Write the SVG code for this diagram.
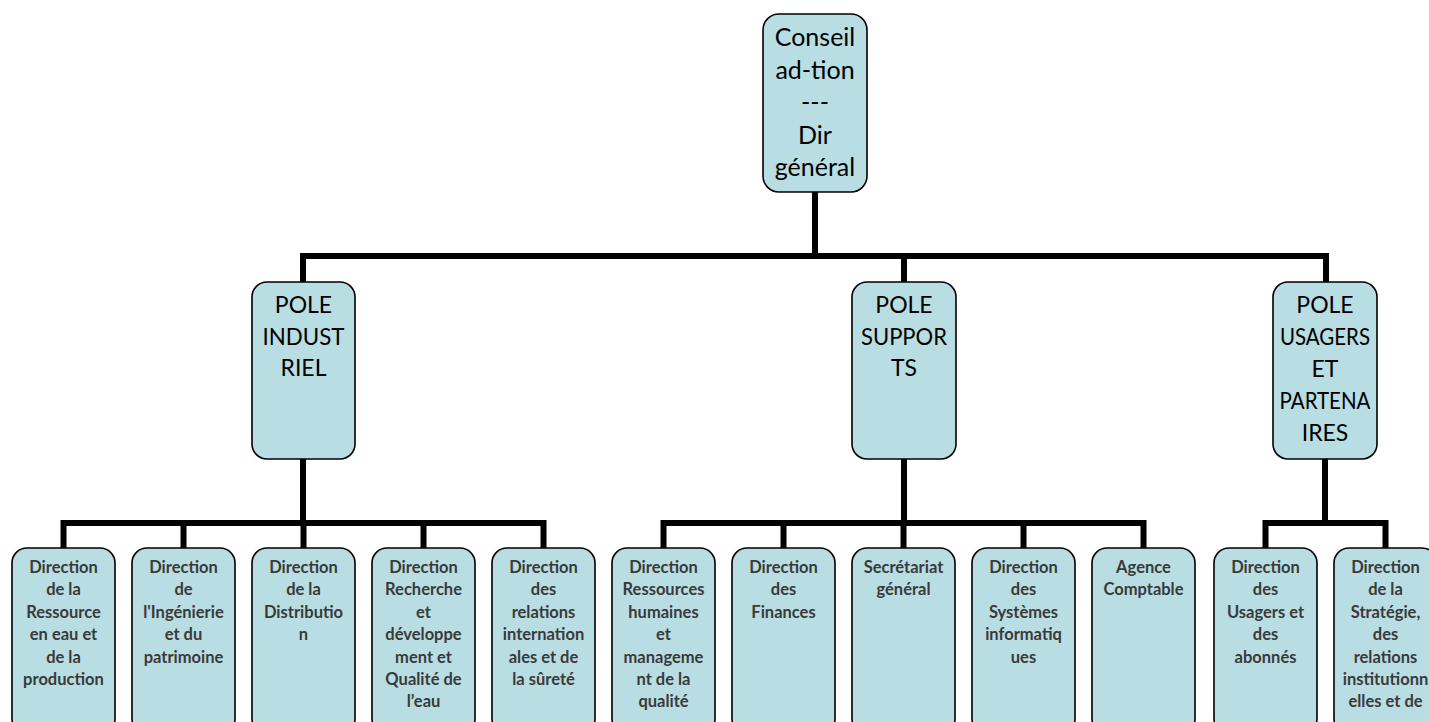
<svg xmlns="http://www.w3.org/2000/svg" width="1429" height="722" viewBox="0 0 1429 722">
<style>
.box{fill:#b8dde3;stroke:#000;stroke-width:1.6}
.big{font-family:Lato,"Open Sans",sans-serif;font-size:25px;fill:#000;text-anchor:middle}
.pole{font-family:Lato,"Open Sans",sans-serif;font-size:23px;fill:#000;text-anchor:middle}
.sm{font-family:Lato,"Open Sans",sans-serif;font-size:16.5px;font-weight:bold;fill:#3a3a3a;text-anchor:middle}
.c{fill:none;stroke:#000;stroke-width:6}
</style>
<rect width="1429" height="722" fill="#fff"/>
<g id="connectors">
<path class="c" d="M815 192V256M303 256H1326M303 253V282M904 253V282M1326 253V282"/>
<path class="c" d="M303 459V523M63.5 523H543.5M63.5 520V548M183.5 520V548M303.5 520V548M423.5 520V548M543.5 520V548"/>
<path class="c" d="M904 459V523M663.5 523H1143.5M663.5 520V548M783.5 520V548M903.5 520V548M1023.5 520V548M1143.5 520V548"/>
<path class="c" d="M1325 459V523M1265.5 523H1385.5M1265.5 520V548M1385.5 520V548"/>
</g>
<g id="n-top"><rect class="box" x="763" y="14" width="104" height="178" rx="16"/>
<text class="big"><tspan x="815" y="46">Conseil</tspan><tspan x="815" y="78.5">ad-tion</tspan><tspan x="815" y="111">---</tspan><tspan x="815" y="143.5">Dir</tspan><tspan x="815" y="176">général</tspan></text></g>
<g id="n-industriel"><rect class="box" x="252" y="282" width="103" height="177" rx="15"/>
<text class="pole"><tspan x="303.5" y="313">POLE</tspan><tspan x="303.5" y="344.5" textLength="82" lengthAdjust="spacingAndGlyphs">INDUST</tspan><tspan x="303.5" y="376">RIEL</tspan></text></g>
<g id="n-supports"><rect class="box" x="852" y="282" width="104" height="177" rx="15"/>
<text class="pole"><tspan x="904" y="313">POLE</tspan><tspan x="904" y="344.5" textLength="86" lengthAdjust="spacingAndGlyphs">SUPPOR</tspan><tspan x="904" y="376">TS</tspan></text></g>
<g id="n-usagers"><rect class="box" x="1273" y="282" width="104" height="177" rx="15"/>
<text class="pole"><tspan x="1325" y="313">POLE</tspan><tspan x="1325" y="345" textLength="90" lengthAdjust="spacingAndGlyphs">USAGERS</tspan><tspan x="1325" y="377">ET</tspan><tspan x="1325" y="409" textLength="91" lengthAdjust="spacingAndGlyphs">PARTENA</tspan><tspan x="1325" y="441">IRES</tspan></text></g>
<g id="d1"><rect class="box" x="12" y="548" width="103" height="186" rx="15"/>
<text class="sm"><tspan x="63.5" y="573">Direction</tspan><tspan x="63.5" y="595.4">de la</tspan><tspan x="63.5" y="617.8">Ressource</tspan><tspan x="63.5" y="640.2">en eau et</tspan><tspan x="63.5" y="662.6">de la</tspan><tspan x="63.5" y="685">production</tspan></text></g>
<g id="d2"><rect class="box" x="132" y="548" width="103" height="186" rx="15"/>
<text class="sm"><tspan x="183.5" y="573">Direction</tspan><tspan x="183.5" y="595.4">de</tspan><tspan x="183.5" y="617.8">l'Ingénierie</tspan><tspan x="183.5" y="640.2">et du</tspan><tspan x="183.5" y="662.6">patrimoine</tspan></text></g>
<g id="d3"><rect class="box" x="252" y="548" width="103" height="186" rx="15"/>
<text class="sm"><tspan x="303.5" y="573">Direction</tspan><tspan x="303.5" y="595.4">de la</tspan><tspan x="303.5" y="617.8">Distributio</tspan><tspan x="303.5" y="640.2">n</tspan></text></g>
<g id="d4"><rect class="box" x="372" y="548" width="103" height="186" rx="15"/>
<text class="sm"><tspan x="423.5" y="573">Direction</tspan><tspan x="423.5" y="595.4">Recherche</tspan><tspan x="423.5" y="617.8">et</tspan><tspan x="423.5" y="640.2">développe</tspan><tspan x="423.5" y="662.6">ment et</tspan><tspan x="423.5" y="685">Qualité de</tspan><tspan x="423.5" y="707.4">l’eau</tspan></text></g>
<g id="d5"><rect class="box" x="492" y="548" width="103" height="186" rx="15"/>
<text class="sm"><tspan x="543.5" y="573">Direction</tspan><tspan x="543.5" y="595.4">des</tspan><tspan x="543.5" y="617.8">relations</tspan><tspan x="543.5" y="640.2">internation</tspan><tspan x="543.5" y="662.6">ales et de</tspan><tspan x="543.5" y="685">la sûreté</tspan></text></g>
<g id="d6"><rect class="box" x="612" y="548" width="103" height="186" rx="15"/>
<text class="sm"><tspan x="663.5" y="573">Direction</tspan><tspan x="663.5" y="595.4">Ressources</tspan><tspan x="663.5" y="617.8">humaines</tspan><tspan x="663.5" y="640.2">et</tspan><tspan x="663.5" y="662.6">manageme</tspan><tspan x="663.5" y="685">nt de la</tspan><tspan x="663.5" y="707.4">qualité</tspan></text></g>
<g id="d7"><rect class="box" x="732" y="548" width="103" height="186" rx="15"/>
<text class="sm"><tspan x="783.5" y="573">Direction</tspan><tspan x="783.5" y="595.4">des</tspan><tspan x="783.5" y="617.8">Finances</tspan></text></g>
<g id="d8"><rect class="box" x="852" y="548" width="103" height="186" rx="15"/>
<text class="sm"><tspan x="903.5" y="573">Secrétariat</tspan><tspan x="903.5" y="595.4">général</tspan></text></g>
<g id="d9"><rect class="box" x="972" y="548" width="103" height="186" rx="15"/>
<text class="sm"><tspan x="1023.5" y="573">Direction</tspan><tspan x="1023.5" y="595.4">des</tspan><tspan x="1023.5" y="617.8">Systèmes</tspan><tspan x="1023.5" y="640.2">informatiq</tspan><tspan x="1023.5" y="662.6">ues</tspan></text></g>
<g id="d10"><rect class="box" x="1092" y="548" width="103" height="186" rx="15"/>
<text class="sm"><tspan x="1143.5" y="573">Agence</tspan><tspan x="1143.5" y="595.4">Comptable</tspan></text></g>
<g id="d11"><rect class="box" x="1214" y="548" width="103" height="186" rx="15"/>
<text class="sm"><tspan x="1265.5" y="573">Direction</tspan><tspan x="1265.5" y="595.4">des</tspan><tspan x="1265.5" y="617.8">Usagers et</tspan><tspan x="1265.5" y="640.2">des</tspan><tspan x="1265.5" y="662.6">abonnés</tspan></text></g>
<g id="d12"><rect class="box" x="1334" y="548" width="103" height="186" rx="15"/>
<text class="sm"><tspan x="1385.5" y="573">Direction</tspan><tspan x="1385.5" y="595.4">de la</tspan><tspan x="1385.5" y="617.8">Stratégie,</tspan><tspan x="1385.5" y="640.2">des</tspan><tspan x="1385.5" y="662.6">relations</tspan><tspan x="1385.5" y="685">institutionn</tspan><tspan x="1385.5" y="707.4">elles et de</tspan></text></g>
</svg>
